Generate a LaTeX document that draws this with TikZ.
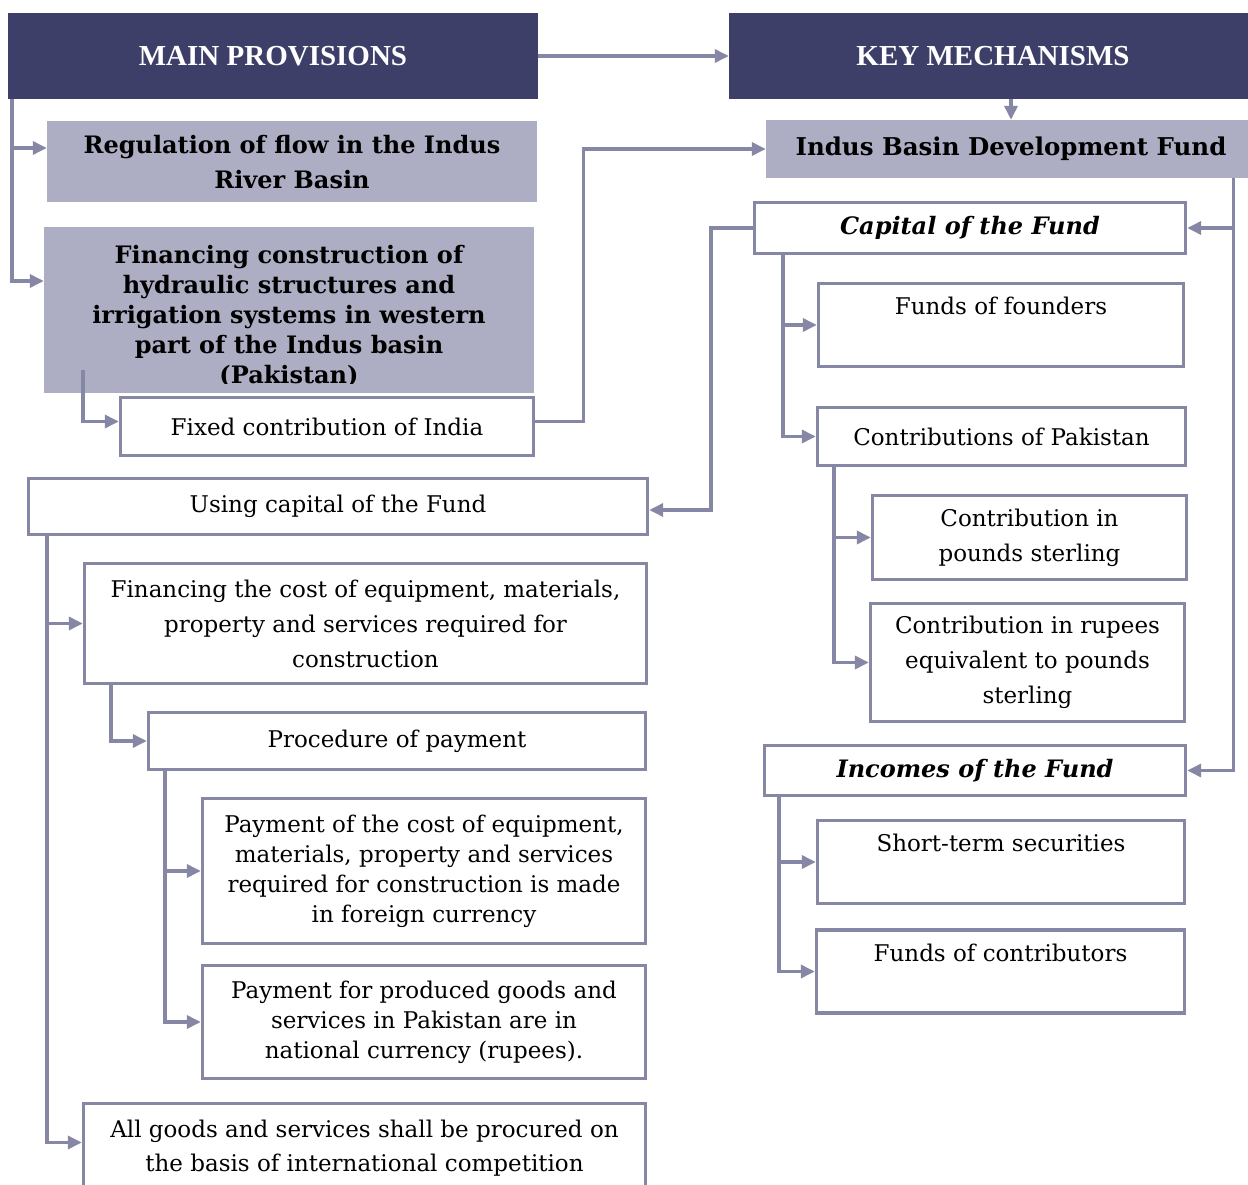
\documentclass[tikz,border=0pt]{standalone}
\usepackage{fontspec}
\setmainfont{DejaVu Serif}
\newfontfamily\hdrfont{Liberation Serif}
\usetikzlibrary{arrows.meta}
\definecolor{navy}{RGB}{62,63,104}
\definecolor{lilac}{RGB}{173,174,195}
\definecolor{conncol}{RGB}{133,135,165}

\begin{document}
\begin{tikzpicture}[x=1pt, y=-1pt, >={Triangle[length=14pt,width=13pt]},
		font=\fontsize{23}{35}\selectfont,
		hdr/.style={fill=navy, text=white, inner sep=0pt, font=\hdrfont\bfseries\fontsize{29}{32}\selectfont},
		gbox/.style={fill=lilac, inner sep=0pt, align=center},
		wbox/.style={draw=conncol, line width=3.4pt, fill=white, inner sep=0pt, align=center},
		topbox/.style={wbox, text height=31pt, text depth=52pt},
		ibold/.style={font=\bfseries\itshape\fontsize{24}{30}\selectfont},
		conn/.style={draw=conncol, line width=3.4pt}]
		\clip (0,0) rectangle (1248,1185);
		% ---------------- headers ----------------
		\node[hdr, minimum width=530pt, minimum height=86pt] (main) at (273,56) {MAIN PROVISIONS};
		\node[hdr, minimum width=528pt, minimum height=86pt] (key) at (993,56) {KEY MECHANISMS};
		% ---------------- main provisions ----------------
		\node[gbox, minimum width=490pt, minimum height=81pt, font=\bfseries\fontsize{24}{35}\selectfont] (reg) at (292,162)
			{Regulation of flow in the Indus\\River Basin};
		\node[gbox, minimum width=490pt, minimum height=166pt, font=\bfseries\fontsize{24}{30}\selectfont] (fin) at (289,310)
			{\rule{0pt}{30pt}Financing construction of\\hydraulic structures and\\irrigation systems in western\\part of the Indus basin\\(Pakistan)};
		\fill[lilac] (fin.south west) rectangle ([yshift=9pt]fin.south east);
		\node[wbox, minimum width=413pt, minimum height=58pt] (india) at (327,426.5) {Fixed contribution of India};
		\node[wbox, minimum width=619pt, minimum height=56pt] (using) at (338,506.5) {Using capital of the Fund};
		\node[wbox, minimum width=562pt, minimum height=120pt] (fcost) at (365.5,623.5)
			{Financing the cost of equipment, materials,\\property and services required for\\construction};
		\node[wbox, minimum width=497pt, minimum height=57pt] (proc) at (397,741) {Procedure of payment};
		\node[wbox, minimum width=443pt, minimum height=145pt, font=\fontsize{23}{30}\selectfont] (pay1) at (424,871)
			{Payment of the cost of equipment,\\materials, property and services\\required for construction is made\\in foreign currency};
		\node[wbox, minimum width=443pt, minimum height=113pt, font=\fontsize{23}{30}\selectfont] (pay2) at (424,1022)
			{Payment for produced goods and\\services in Pakistan are in\\national currency (rupees).};
		\node[wbox, minimum width=562pt, minimum height=90pt, font=\fontsize{23}{34}\selectfont] (allg) at (364.5,1148.5)
			{All goods and services shall be procured on\\the basis of international competition};
		% ---------------- key mechanisms ----------------
		\node[gbox, minimum width=490pt, minimum height=58pt, font=\bfseries\fontsize{24.5}{30}\selectfont] (ibdf) at (1011,149)
			{Indus Basin Development Fund};
		\node[wbox, ibold, minimum width=431pt, minimum height=51pt] (cap) at (970,228) {Capital of the Fund};
		\node[topbox, minimum width=365pt] (founders) at (1001,325) {Funds of founders};
		\node[wbox, minimum width=368pt, minimum height=58pt] (pak) at (1001.5,436.5) {Contributions of Pakistan};
		\node[wbox, minimum width=314pt, minimum height=84pt] (pounds) at (1029.5,537.5) {Contribution in\\pounds sterling};
		\node[wbox, minimum width=314pt, minimum height=118pt] (rupees) at (1027.5,662.5)
			{Contribution in rupees\\equivalent to pounds\\sterling};
		\node[wbox, ibold, minimum width=421pt, minimum height=50pt] (inc) at (975,770.5) {Incomes of the Fund};
		\node[topbox, minimum width=367pt] (stsec) at (1001,862) {Short-term securities};
		\node[topbox, minimum width=368pt] (contrib) at (1000.5,971.5) {Funds of contributors};
		% ---------------- connectors ----------------
		\draw[conn,->] (main.east) -- (key.west);
		\draw[conn,->] (main.south west) ++(4,0) |- ([yshift=14pt]reg.west);
		\draw[conn,->] (main.south west) ++(4,0) |- ([yshift=29pt]fin.west);
		\draw[conn,->] (ibdf.north |- key.south) -- (ibdf.north);
		\draw[conn,->] (fin.south west) ++(39,-23) |- ([yshift=5pt]india.west);
		\draw[conn,->] ([yshift=5pt]india.east) -- ++(48,0) |- (ibdf.west);
		\draw[conn,->] (ibdf.south east) ++(-23,0) |- (cap.east);
		\draw[conn,->] (ibdf.south east) ++(-23,0) |- (inc.east);
		\draw[conn,->] (cap.west) -- ++(-42,0) |- ([yshift=-3.5pt]using.east);
		\draw[conn,->] (cap.south west) ++(30,0) |- (founders.west);
		\draw[conn,->] (cap.south west) ++(30,0) |- (pak.west);
		\draw[conn,->] (pak.south west) ++(18,0) |- (pounds.west);
		\draw[conn,->] (pak.south west) ++(18,0) |- (rupees.west);
		\draw[conn,->] (inc.south west) ++(16,0) |- (stsec.west);
		\draw[conn,->] (inc.south west) ++(16,0) |- (contrib.west);
		\draw[conn,->] (using.south west) ++(20,0) |- (fcost.west);
		\draw[conn,->] (using.south west) ++(20,0) |- ([yshift=6pt]allg.west);
		\draw[conn,->] (fcost.south west) ++(28,0) |- (proc.west);
		\draw[conn,->] (proc.south west) ++(18,0) |- (pay1.west);
		\draw[conn,->] (proc.south west) ++(18,0) |- (pay2.west);
	\end{tikzpicture}
\end{document}
